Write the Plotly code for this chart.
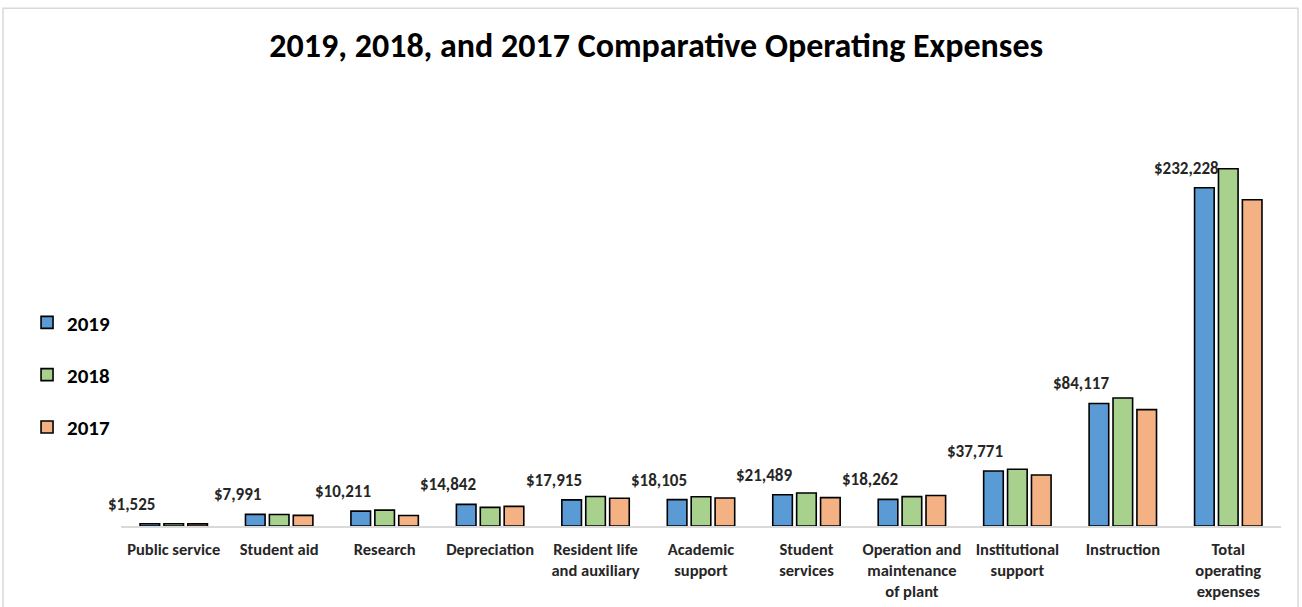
import plotly.graph_objects as go

categories = ["Public service", "Student aid", "Research", "Depreciation",
              "Resident life<br>and auxiliary", "Academic<br>support",
              "Student<br>services", "Operation and<br>maintenance<br>of plant",
              "Institutional<br>support", "Instruction",
              "Total<br>operating<br>expenses"]
v2019 = [1525, 7991, 10211, 14842, 17915, 18105, 21489, 18262, 37771, 84117, 232228]
v2018 = [1500, 7900, 10900, 12800, 20300, 20100, 22700, 20200, 39000, 87900, 245300]
v2017 = [1450, 7300, 7200, 13500, 19000, 19200, 19500, 20900, 35000, 79900, 224000]
series_names = ["2019", "2018", "2017"]
colors = ["#5B9BD5", "#A9D18E", "#F4B183"]

FONT = "Carlito, Lato, sans-serif"

fig = go.Figure()
for i, (name, vals, col) in enumerate(zip(series_names, [v2019, v2018, v2017], colors)):
    fig.add_trace(go.Bar(
        x=categories, y=vals, name=name, legendgroup=name,
        marker=dict(color=col, line=dict(color="black", width=1.6)),
        hoverinfo="x+y+name",
    ))

for cat, val in zip(categories, v2019):
    fig.add_annotation(
        x=cat, y=val, text=f"${val:,}", showarrow=False,
        xanchor="center", yanchor="bottom", xshift=-42, yshift=7,
        font=dict(family=FONT, size=17, color="#262626", weight="bold"),
    )

fig.add_shape(type="rect", xref="paper", yref="paper",
              x0=-0.1017, x1=1.0147, y0=-0.3, y1=1.1637,
              line=dict(color="#D9D9D9", width=1.5), fillcolor="rgba(0,0,0,0)", layer="below")

fig.update_layout(
    width=1302, height=607,
    margin=dict(l=121, r=21, t=81, b=81, autoexpand=False),
    paper_bgcolor="white", plot_bgcolor="white",
    title=dict(text="<b>2019, 2018, and 2017 Comparative Operating Expenses</b>",
               x=0.504, xref="container", xanchor="center", y=0.925, yanchor="middle",
               font=dict(family=FONT, size=34, color="black")),
    barmode="group", bargap=0.32, bargroupgap=0.18,
    showlegend=True,
    legend=dict(x=-0.081, xanchor="left", y=0.34, yanchor="middle",
                orientation="v", tracegroupgap=22,
                font=dict(family=FONT, size=21, color="black", weight="bold"),
                bgcolor="rgba(0,0,0,0)"),
    xaxis=dict(showline=True, linecolor="#D9D9D9", linewidth=1.5,
               range=[-0.5, len(categories) - 0.5], automargin=False,
               showgrid=False, ticks="", ticklabelstandoff=7,
               tickfont=dict(family=FONT, size=16.5, color="#262626", weight="bold"),
               fixedrange=True),
    yaxis=dict(range=[0, 305500], visible=False, showgrid=False, fixedrange=True,
               automargin=False),
)

fig.write_html("out.html", config={"displayModeBar": False},
               post_script="document.body.style.margin='0';document.body.style.overflow='hidden';")
